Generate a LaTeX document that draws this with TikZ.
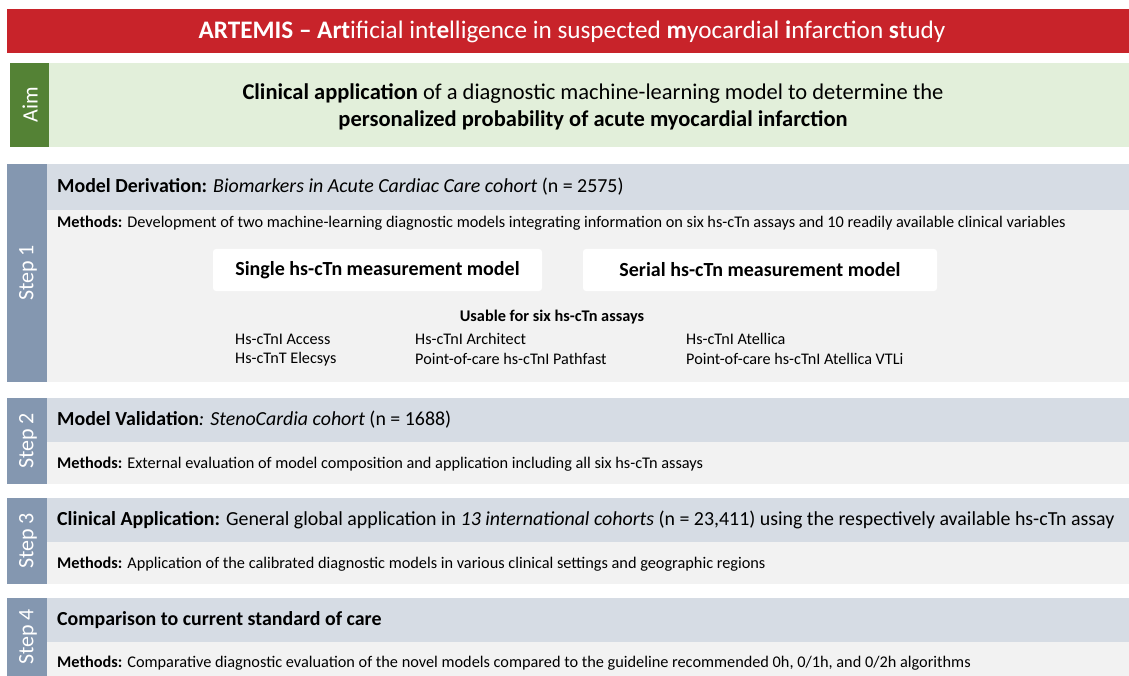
\documentclass[tikz,border=0pt]{standalone}
\usepackage{fontspec}
\setmainfont{Carlito}
\definecolor{bannerred}{HTML}{C8232A}
\definecolor{aimgreen}{HTML}{548235}
\definecolor{aimlight}{HTML}{E2EFDA}
\definecolor{stepbar}{HTML}{8497B0}
\definecolor{headband}{HTML}{D6DCE4}
\definecolor{bodyband}{HTML}{F2F2F2}
\newcommand{\fsz}[1]{\fontsize{#1}{#1}\selectfont}
\tikzset{
  sidelabel/.style={rotate=90, text=white, font=\fsz{22}, inner sep=0pt},
  headtext/.style={anchor=west, inner sep=0pt, font=\fsz{19.9}},
  methtext/.style={anchor=west, inner sep=0pt, font=\fsz{16.3}},
  modelbox/.style={fill=white, rounded corners=3pt, draw=none, inner sep=0pt,
    minimum height=42pt, font=\bfseries\fsz{20}},
  assay/.style={anchor=west, inner sep=0pt, font=\fsz{16.2}}
}
\begin{document}
\begin{tikzpicture}[x=1pt,y=-1pt]
\useasboundingbox (0,0) rectangle (1129,676);
\fill[white] (0,0) rectangle (1129,676);

% title banner
\fill[bannerred] (7,9) rectangle (1129,53);
\node[text=white, font=\fsz{25.2}, inner sep=0pt] (title) at (572,32)
  {\textbf{ARTEMIS – Art}ificial int\textbf{e}lligence in suspected \textbf{m}yocardial \textbf{i}nfarction \textbf{s}tudy};

% aim
\fill[aimgreen] (10,63) rectangle (49,147);
\fill[aimlight] (49,63) rectangle (1129,147);
\node[sidelabel] (aimlabel) at (30,105) {Aim};
\node[font=\fsz{22.5}, align=center, inner sep=0pt] (aimtext) at (593,107)
  {\textbf{Clinical application} of a diagnostic machine-learning model to determine the\\[5pt]
   \textbf{personalized probability of acute myocardial infarction}};

% step 1
\fill[stepbar] (7,164) rectangle (47,382);
\fill[headband] (47,164) rectangle (1129,210);
\fill[bodyband] (47,210) rectangle (1129,382);
\node[sidelabel] (s1label) at (28,273) {Step 1};
\node[headtext] (s1head) at (57,187)
  {\textbf{Model Derivation:} \textit{Biomarkers in Acute Cardiac Care cohort} (n = 2575)};
\node[methtext] (s1meth) at (57,223)
  {\textbf{Methods:} Development of two machine-learning diagnostic models integrating information on six hs-cTn assays and 10 readily available clinical variables};
\node[modelbox, minimum width=329pt] (single) at (377.5,270) {Single hs-cTn measurement model};
\node[modelbox, minimum width=354pt] (serial) at (760,270) {Serial hs-cTn measurement model};
\node[font=\bfseries\fsz{16.3}, inner sep=0pt] (usable) at (552,317) {Usable for six hs-cTn assays};
\node[assay] (a1) at (235,339) {Hs-cTnI Access};
\node[assay] (a2) at (235,359) {Hs-cTnT Elecsys};
\node[assay] (a3) at (415,339) {Hs-cTnI Architect};
\node[assay] (a4) at (415,359) {Point-of-care hs-cTnI Pathfast};
\node[assay] (a5) at (686,339) {Hs-cTnI Atellica};
\node[assay] (a6) at (686,359) {Point-of-care hs-cTnI Atellica VTLi};

% step 2
\fill[stepbar] (7,398) rectangle (47,484);
\fill[headband] (47,398) rectangle (1129,442);
\fill[bodyband] (47,442) rectangle (1129,484);
\node[sidelabel] (s2label) at (28,441) {Step 2};
\node[headtext] (s2head) at (57,420)
  {\textbf{Model Validation}\textit{: StenoCardia cohort} (n = 1688)};
\node[methtext] (s2meth) at (57,464)
  {\textbf{Methods:} External evaluation of model composition and application including all six hs-cTn assays};

% step 3
\fill[stepbar] (7,498) rectangle (47,584);
\fill[headband] (47,498) rectangle (1129,542);
\fill[bodyband] (47,542) rectangle (1129,584);
\node[sidelabel] (s3label) at (28,541) {Step 3};
\node[headtext] (s3head) at (57,520)
  {\textbf{Clinical Application:} General global application in \textit{13 international cohorts} (n = 23,411) using the respectively available hs-cTn assay};
\node[methtext] (s3meth) at (57,564)
  {\textbf{Methods:} Application of the calibrated diagnostic models in various clinical settings and geographic regions};

% step 4
\fill[stepbar] (7,598) rectangle (47,676);
\fill[headband] (47,598) rectangle (1129,642);
\fill[bodyband] (47,642) rectangle (1129,676);
\node[sidelabel] (s4label) at (28,637) {Step 4};
\node[headtext] (s4head) at (57,620)
  {\textbf{Comparison to current standard of care}};
\node[methtext] (s4meth) at (57,663)
  {\textbf{Methods:} Comparative diagnostic evaluation of the novel models compared to the guideline recommended 0h, 0/1h, and 0/2h algorithms};
\end{tikzpicture}
\end{document}
